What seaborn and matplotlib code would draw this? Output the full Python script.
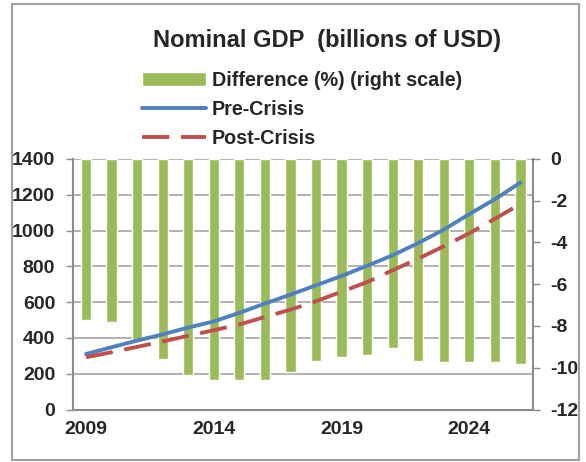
import numpy as np
import matplotlib
import matplotlib.pyplot as plt
import matplotlib.patches as mpatches
import seaborn as sns

matplotlib.use("Agg")

# ── Data ──────────────────────────────────────────────────────────────────────
years = list(range(2009, 2027))
pre_crisis = [310, 348, 385, 420, 458, 492, 540, 592, 642, 694,
              746, 803, 862, 930, 1005, 1092, 1175, 1268]
post_crisis = [292, 320, 350, 380, 412, 443, 475, 517, 558, 605,
               658, 712, 778, 843, 912, 985, 1066, 1148]
difference = [-7.73, -7.82, -8.66, -9.58, -10.36, -10.61, -10.61, -10.61, -10.18,
              -9.66, -9.48, -9.40, -9.07, -9.66, -9.74, -9.74, -9.74, -9.83]
left_ticks = [0, 200, 400, 600, 800, 1000, 1200, 1400]
right_ticks = [0, -2, -4, -6, -8, -10, -12]
label_years = [2009, 2014, 2019, 2024]

GREEN = "#9BBB59"
BLUE = "#4F81BD"
RED = "#C0504D"
GRID = "#a6a6a6"
SPINE = "#8c8c8c"
TICK_FS = 14
LEG_FS = 14.2

sns.set_style("white")
plt.rcParams["font.family"] = ["Liberation Sans", "DejaVu Sans"]
plt.rcParams["font.weight"] = "bold"
plt.rcParams["axes.unicode_minus"] = False

fig = plt.figure(figsize=(5.86, 4.62), dpi=100)
ax = fig.add_axes([0.125, 0.1136, 0.785, 0.5424])  # left scale + grid
ax2 = ax.twinx()                                   # bars, right scale
ax3 = ax.twinx()                                   # lines, left scale

# bars (right scale)
sns.barplot(x=years, y=difference, ax=ax2, color=GREEN, width=0.4,
            saturation=1, label="Difference (%) (right scale)")
if ax2.get_legend() is not None:
    ax2.get_legend().remove()

# lines (left scale)
pos = np.arange(len(years))
sns.lineplot(x=pos, y=pre_crisis, ax=ax3, color=BLUE, lw=2.8, label="Pre-Crisis")
sns.lineplot(x=pos, y=post_crisis, ax=ax3, color=RED, lw=2.8,
             dashes=False, label="Post-Crisis")
ax3.lines[-1].set_dashes((7, 3))
ax3.get_legend().remove()

# ── Axes styling ──────────────────────────────────────────────────────────────
ax.set_ylim(0, 1400)
ax3.set_ylim(0, 1400)
ax2.set_ylim(-12, 0)
ax.set_xlim(-0.5, len(years) - 0.5)

ax.set_yticks(left_ticks)
ax.yaxis.grid(True, color=GRID, lw=1.2)
ax.tick_params(axis="y", length=5, width=1, color=SPINE, labelsize=TICK_FS, pad=8)
for lbl in ax.get_yticklabels():
    lbl.set_fontweight("bold")

ax2.set_yticks(right_ticks)
ax2.tick_params(axis="y", length=5, width=1, color=SPINE, labelsize=TICK_FS, pad=7)
for lbl in ax2.get_yticklabels():
    lbl.set_fontweight("bold")
ax2.set_ylabel("")

ax3.yaxis.set_visible(False)

# x ticks: marks on category boundaries, labels every 5 years
ax.set_xticks(np.arange(len(years) + 1) - 0.5)
ax.set_xticklabels([])
ax.set_xticks([years.index(y) for y in label_years], minor=True)
ax.set_xticklabels([str(y) for y in label_years], minor=True,
                   fontsize=TICK_FS, fontweight="bold")
ax.tick_params(axis="x", which="major", length=5, width=1, color=SPINE,
               direction="out")
ax.tick_params(axis="x", which="minor", length=0, pad=8)
ax.set_xlabel("")

for a in (ax, ax2, ax3):
    for s in a.spines.values():
        s.set_visible(False)
ax.spines["left"].set_visible(True)
ax.spines["bottom"].set_visible(True)
ax2.spines["right"].set_visible(True)
for s in (ax.spines["left"], ax.spines["bottom"], ax2.spines["right"]):
    s.set_color(SPINE)
    s.set_linewidth(1.5)

# ── Title, legend, frame ──────────────────────────────────────────────────────
fig.text(0.558, 0.913, "Nominal GDP  (billions of USD)", ha="center", va="center",
         fontsize=17, fontweight="bold")

h2, l2 = ax2.get_legend_handles_labels()
h3, l3 = ax3.get_legend_handles_labels()
fig.legend(h2 + h3, l2 + l3, loc="upper left", bbox_to_anchor=(0.229, 0.864),
           frameon=False, handlelength=3.25, handletextpad=0.3,
           labelspacing=0.52, borderaxespad=0, prop={"weight": "bold", "size": LEG_FS})

fig.patches.append(mpatches.Rectangle((0.0205, 0.0043), 0.9676, 0.987,
                                      transform=fig.transFigure, fill=False,
                                      edgecolor="#a0a0a0", lw=1.5))

fig.savefig("out.png", dpi=100)
